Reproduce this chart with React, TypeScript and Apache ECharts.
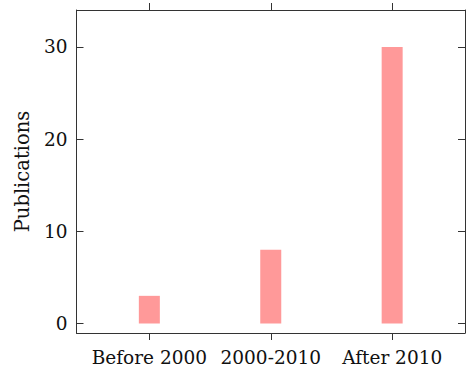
import React, { useEffect, useRef } from "react";
import * as echarts from "echarts";

const categories = ["Before 2000", "2000-2010", "After 2010"];
const publications = [3, 8, 30];
const yTicks = [0, 10, 20, 30];

export default function App() {
  const ref = useRef<HTMLDivElement>(null);
  useEffect(() => {
    document.body.style.margin = "0";
    const chart = echarts.init(ref.current!, null, { renderer: "svg" });
    const axisColor = "#333";
    const font = "DejaVu Serif";
    const xPositions = categories.map((_, i) => i);
    const line = { show: true, onZero: false, lineStyle: { color: axisColor, width: 1 } };
    chart.setOption({
      animation: false,
      grid: { left: 76.5, right: 1, top: 10, bottom: 37, outerBoundsMode: "none" },
      xAxis: [
        {
          type: "value",
          position: "bottom",
          min: -0.6,
          max: 2.6,
          splitLine: { show: false },
          axisLine: line,
          axisTick: { show: true, inside: false, length: 7, customValues: xPositions, lineStyle: { color: axisColor } },
          axisLabel: {
            customValues: xPositions,
            formatter: (v: number) => categories[Math.round(v)] ?? "",
            fontFamily: font,
            fontSize: 18.5,
            color: "#111",
            margin: 15,
          },
        },
        {
          type: "value",
          position: "top",
          min: -0.6,
          max: 2.6,
          splitLine: { show: false },
          axisLine: line,
          axisTick: { show: true, inside: false, length: 7, customValues: xPositions, lineStyle: { color: axisColor } },
          axisLabel: { show: false },
        },
      ],
      yAxis: [
        {
          type: "value",
          position: "left",
          min: -1.03,
          max: 34,
          name: "Publications",
          nameLocation: "middle",
          nameGap: 44,
          nameTextStyle: { fontFamily: font, fontSize: 19.5, color: "#111" },
          splitLine: { show: false },
          axisLine: line,
          axisTick: { show: true, inside: true, length: 7, customValues: yTicks, lineStyle: { color: axisColor } },
          axisLabel: {
            customValues: yTicks,
            fontFamily: font,
            fontSize: 18.5,
            color: "#111",
            margin: 9,
          },
        },
        {
          type: "value",
          position: "right",
          min: -1.03,
          max: 34,
          splitLine: { show: false },
          axisLine: line,
          axisTick: { show: true, inside: true, length: 7, customValues: yTicks, lineStyle: { color: axisColor } },
          axisLabel: { show: false },
        },
      ],
      series: [
        {
          type: "bar",
          xAxisIndex: 0,
          yAxisIndex: 0,
          barWidth: 21,
          itemStyle: { color: "#ff9999" },
          data: publications.map((v, i) => [i, v]),
        },
      ],
    });
    return () => chart.dispose();
  }, []);
  return <div ref={ref} style={{ width: 466, height: 370 }} />;
}
